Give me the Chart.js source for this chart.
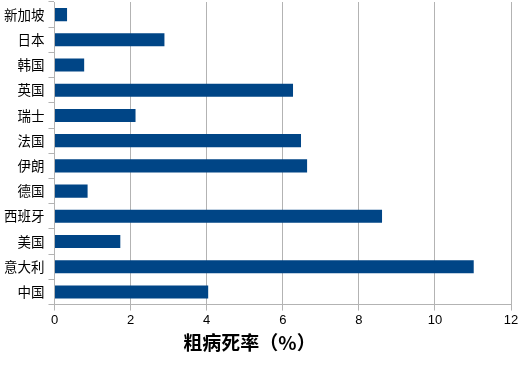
<!DOCTYPE html>
<html>
<head>
<meta charset="utf-8">
<script src="https://cdn.jsdelivr.net/npm/chart.js@4"></script>
<style>
  html, body { margin: 0; padding: 0; background: #fff; }
  #wrap { width: 531px; height: 365px; }
</style>
</head>
<body>
<div id="wrap"><canvas id="c" width="531" height="365"></canvas></div>
<script>
const countries = ["新加坡", "日本", "韩国", "英国", "瑞士", "法国", "伊朗", "德国", "西班牙", "美国", "意大利", "中国"];
const crudeFatalityRate = [0.33, 2.89, 0.78, 6.27, 2.13, 6.48, 6.64, 0.87, 8.61, 1.73, 11.02, 4.04];
const xTicks = [0, 2, 4, 6, 8, 10, 12];
const axisTitle = "粗病死率（%）";

const gridColor = "#b3b3b3";

new Chart(document.getElementById("c"), {
  type: "bar",
  data: {
    labels: countries,
    datasets: [{
      data: crudeFatalityRate,
      backgroundColor: "#004586",
      borderWidth: 0,
      barPercentage: 0.52,
      categoryPercentage: 1.0
    }]
  },
  options: {
    indexAxis: "y",
    responsive: false,
    animation: false,
    devicePixelRatio: 1,
    layout: { padding: { left: 0, right: 20, top: 2, bottom: 7 } },
    plugins: { legend: { display: false }, tooltip: { enabled: false } },
    scales: {
      x: {
        min: xTicks[0],
        max: xTicks[xTicks.length - 1],
        afterBuildTicks: (s) => { s.ticks = xTicks.map(v => ({ value: v })); },
        grid: { color: gridColor, lineWidth: 1, tickLength: 6, drawTicks: true },
        border: { color: gridColor, width: 1 },
        ticks: {
          color: "#000",
          padding: 3,
          font: { family: "Liberation Sans", size: 13, lineHeight: 1.05 }
        },
        title: {
          display: true,
          text: axisTitle + "\u3000\u3000\u3000\u3000",
          color: "#000",
          padding: { top: 1, bottom: 4 },
          font: { family: "Noto Sans CJK SC", size: 19, weight: "bold" }
        }
      },
      y: {
        afterFit: (s) => { s.paddingTop = 0; s.paddingBottom = 0; },
        grid: { color: gridColor, drawOnChartArea: false, drawTicks: true, tickLength: 6, offset: true },
        border: { color: gridColor, width: 1 },
        ticks: {
          color: "#000",
          padding: 4,
          font: { family: "Noto Sans CJK SC", size: 13.5 }
        }
      }
    }
  }
});
</script>
</body>
</html>
